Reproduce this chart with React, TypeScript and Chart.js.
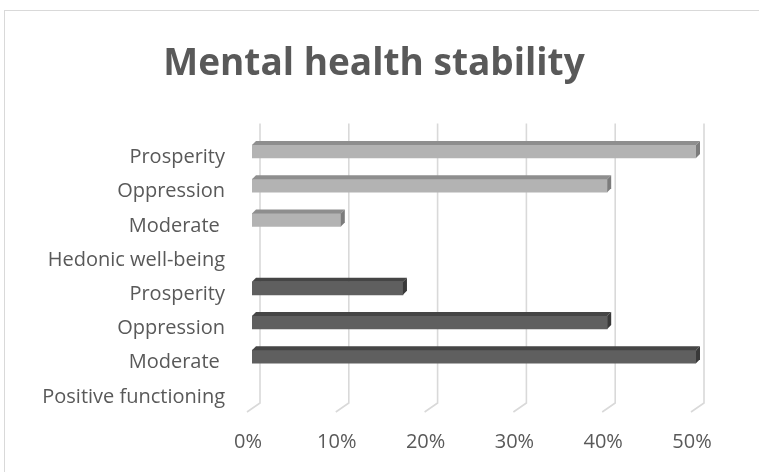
import React, { useEffect, useRef } from "react";
import { Chart, registerables } from "chart.js";

Chart.register(...registerables);

const titleText = "Mental health stability";
const categories = [
  "Prosperity",
  "Oppression",
  "Moderate ",
  "Hedonic well-being",
  "Prosperity",
  "Oppression",
  "Moderate ",
  "Positive functioning",
];
const values = [50, 40, 10, 0, 17, 40, 50, 0];
const groups = ["hedonic", "hedonic", "hedonic", "hedonic", "positive", "positive", "positive", "positive"];
const tickValues = [0, 10, 20, 30, 40, 50];

const palette: Record<string, { front: string; top: string; side: string }> = {
  hedonic: { front: "#b3b3b3", top: "#8e8e8e", side: "#7c7c7c" },
  positive: { front: "#5f5f5f", top: "#454545", side: "#393939" },
};

const TEXT = "#595959";
const FONT = "'Open Sans', sans-serif";

const titlePlugin = {
  id: "centerTitle",
  afterDraw(chart: any) {
    const { ctx } = chart;
    ctx.save();
    ctx.font = `bold 37px ${FONT}`;
    ctx.fillStyle = TEXT;
    ctx.textAlign = "center";
    ctx.textBaseline = "alphabetic";
    ctx.fillText(titleText, 374, 75);
    ctx.restore();
  },
};

const depthPlugin = {
  id: "depth3d",
  beforeDatasetsDraw(chart: any) {
    const { ctx, chartArea, scales } = chart;
    const x = scales.x;
    ctx.save();
    ctx.strokeStyle = "#d9d9d9";
    ctx.lineWidth = 1.6;
    tickValues.forEach((v) => {
      const px = x.getPixelForValue(v);
      ctx.beginPath();
      ctx.moveTo(px + 8, chartArea.top - 11);
      ctx.lineTo(px + 8, chartArea.bottom - 5);
      ctx.lineTo(px - 5, chartArea.bottom + 4);
      ctx.stroke();
    });
    ctx.restore();
  },
  afterDatasetsDraw(chart: any) {
    const { ctx } = chart;
    const meta = chart.getDatasetMeta(0);
    const d = 4;
    ctx.save();
    meta.data.forEach((bar: any, i: number) => {
      if (!values[i]) return;
      const p = bar.getProps(["x", "y", "base", "height"], true);
      const top = p.y - p.height / 2;
      const bot = p.y + p.height / 2;
      const c = palette[groups[i]];
      ctx.fillStyle = c.top;
      ctx.beginPath();
      ctx.moveTo(p.base, top);
      ctx.lineTo(p.base + d, top - d);
      ctx.lineTo(p.x + d, top - d);
      ctx.lineTo(p.x, top);
      ctx.closePath();
      ctx.fill();
      ctx.fillStyle = c.side;
      ctx.beginPath();
      ctx.moveTo(p.x, top);
      ctx.lineTo(p.x + d, top - d);
      ctx.lineTo(p.x + d, bot - d);
      ctx.lineTo(p.x, bot);
      ctx.closePath();
      ctx.fill();
    });
    ctx.restore();
  },
};

export default function App() {
  const ref = useRef<HTMLCanvasElement>(null);

  useEffect(() => {
    if (!ref.current) return;
    const chart = new Chart(ref.current, {
      type: "bar",
      data: {
        labels: categories,
        datasets: [
          {
            data: values,
            backgroundColor: groups.map((g, i) => (values[i] ? palette[g].front : "rgba(0,0,0,0)")),
            borderWidth: 0,
            borderSkipped: false,
            barThickness: 13,
          },
        ],
      },
      options: {
        indexAxis: "y",
        animation: false,
        responsive: false,
        maintainAspectRatio: false,
        layout: { padding: { left: 0, right: 63, top: 134.4, bottom: 0 } },
        plugins: {
          legend: { display: false },
          tooltip: { enabled: false },
          title: { display: false },
        },
        scales: {
          x: {
            min: 0,
            max: 50,
            afterFit: (s: any) => {
              s.height = 64;
            },
            afterBuildTicks: (s: any) => {
              s.ticks = tickValues.map((v) => ({ value: v }));
            },
            grid: { display: false, drawTicks: false },
            border: { display: false },
            ticks: {
              color: TEXT,
              font: { family: FONT, size: 20 },
              padding: 22.5,
              labelOffset: -4,
              callback: (v: any) => v + "%",
            },
          },
          y: {
            afterFit: (s: any) => {
              s.width = 252;
            },
            grid: { display: false, drawTicks: false },
            border: { display: false },
            ticks: {
              color: TEXT,
              font: { family: FONT, size: 20 },
              padding: 27,
              labelOffset: 6,
              autoSkip: false,
            },
          },
        },
      },
      plugins: [depthPlugin, titlePlugin],
    });
    return () => chart.destroy();
  }, []);

  return (
    <div style={{ position: "absolute", left: 0, top: 0, width: 759, height: 472, overflow: "hidden", background: "#fff" }}>
      <div
        style={{
          position: "absolute",
          left: 4,
          top: 10,
          width: 755,
          height: 462,
          borderTop: "1.5px solid #d9d9d9",
          borderLeft: "1.5px solid #d9d9d9",
          boxSizing: "border-box",
        }}
      />
      <canvas ref={ref} width={759} height={472} style={{ position: "absolute", left: 0, top: 0, width: 759, height: 472 }} />
    </div>
  );
}
